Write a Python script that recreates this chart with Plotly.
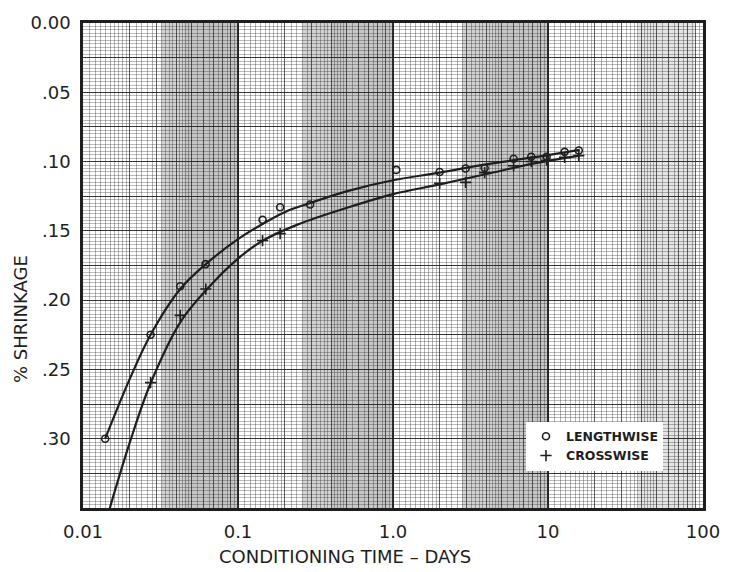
import plotly.graph_objects as go

# Measured shrinkage, lengthwise specimens (days, % shrinkage)
length_days = [0.0139, 0.0273, 0.0424, 0.0618, 0.144, 0.187, 0.292, 1.05,
               2.0, 2.94, 3.9, 6.0, 7.8, 9.8, 12.8, 15.8]
length_shrink = [0.300, 0.225, 0.190, 0.174, 0.142, 0.133, 0.131, 0.106,
                 0.1075, 0.105, 0.1046, 0.098, 0.0965, 0.0965, 0.093, 0.092]

# Measured shrinkage, crosswise specimens
cross_days = [0.0273, 0.0424, 0.062, 0.144, 0.187, 2.0, 2.94, 3.9, 6.0,
              7.8, 9.8, 12.8, 15.8]
cross_shrink = [0.2595, 0.211, 0.192, 0.157, 0.152, 0.1157, 0.115, 0.108,
                0.103, 0.100, 0.099, 0.097, 0.0957]

# Hand-faired curves through each set
length_curve_days = [0.0139, 0.02, 0.0273, 0.0424, 0.062, 0.1, 0.144, 0.2,
                     0.3, 0.5, 1.0, 2.0, 4.0, 8.0, 16.0]
length_curve_shrink = [0.300, 0.257, 0.225, 0.192, 0.174, 0.156, 0.145, 0.1365,
                       0.1295, 0.1215, 0.1135, 0.108, 0.102, 0.097, 0.0915]

cross_curve_days = [0.0149, 0.02, 0.0273, 0.0424, 0.062, 0.1, 0.145, 0.242,
                    0.5, 1.0, 2.0, 4.0, 8.0, 16.0]
cross_curve_shrink = [0.350, 0.303, 0.260, 0.216, 0.193, 0.170, 0.157, 0.1455,
                      0.1335, 0.1235, 0.1165, 0.109, 0.1015, 0.0957]

# Axis ticks
decades = [0.01, 0.1, 1.0, 10.0, 100.0]
decade_labels = ["0.01", "0.1", "1.0", "10", "100"]
y_ticks = [i * 0.025 for i in range(15)]
y_labels = ["0.00", "", ".05", "", ".10", "", ".15", "", ".20", "", ".25", "", ".30", "", ""]

INK = "#1e1e1e"
FONT = "DejaVu Sans"

# log-paper rulings: heavy at each integer multiple, finer subdivisions between
x_major = []
x_major_text = []
x_fine = []
for i, d in enumerate(decades[:-1]):
    for k in range(1, 10):
        x_major.append(d * k)
        x_major_text.append(decade_labels[i] if k == 1 else "")
    for m in range(1, 20):          # 1-2 by tenths
        v = 1 + m * 0.1
        if abs(v - round(v)) > 1e-9 and v < 2:
            x_fine.append(d * v)
    for m in range(1, 15):          # 2-5 by fifths
        v = 2 + m * 0.2
        if abs(v - round(v)) > 1e-9 and v < 5:
            x_fine.append(d * v)
    for m in range(1, 10):          # 5-10 by halves
        v = 5 + m * 0.5
        if abs(v - round(v)) > 1e-9 and v < 10:
            x_fine.append(d * v)
x_major.append(decades[-1])
x_major_text.append(decade_labels[-1])

fig = go.Figure()

fig.add_trace(go.Scatter(
    x=length_curve_days, y=length_curve_shrink, mode="lines",
    line=dict(color=INK, width=2.2, shape="spline", smoothing=1.0),
    showlegend=False, hoverinfo="skip"))
fig.add_trace(go.Scatter(
    x=cross_curve_days, y=cross_curve_shrink, mode="lines",
    line=dict(color=INK, width=2.2, shape="spline", smoothing=1.0),
    showlegend=False, hoverinfo="skip"))

fig.add_trace(go.Scatter(
    x=length_days, y=length_shrink, mode="markers", name="LENGTHWISE",
    marker=dict(symbol="circle-open", size=7, color=INK, line=dict(width=1.6, color=INK))))
fig.add_trace(go.Scatter(
    x=cross_days, y=cross_shrink, mode="markers", name="CROSSWISE",
    marker=dict(symbol="cross-thin-open", size=8, color=INK, line=dict(width=1.6, color=INK))))

# darker bands where the printed rulings crowd together (log axis: shape x in data units)
shapes = []
for lo, hi, op in [(0.032, 0.1, 0.30), (0.045, 0.1, 0.12),
                   (0.26, 1.0, 0.30), (0.4, 1.0, 0.10),
                   (2.8, 10.0, 0.30), (4.5, 10.0, 0.10),
                   (38.0, 88.0, 0.18)]:
    shapes.append(dict(type="rect", xref="x", yref="paper",
                       x0=lo, x1=hi, y0=0, y1=1,
                       fillcolor="#6a6a6a", opacity=op, line=dict(width=0), layer="below"))
for d in decades[1:-1]:
    shapes.append(dict(type="line", xref="x", yref="paper",
                       x0=d, x1=d, y0=0, y1=1,
                       line=dict(color=INK, width=1.8), layer="below"))

fig.update_layout(
    width=732, height=572,
    margin=dict(l=83, r=22, t=14, b=64),
    paper_bgcolor="white", plot_bgcolor="white",
    font=dict(family=FONT, color=INK, size=18),
    shapes=shapes,
    legend=dict(
        x=0.7145, y=0.178, xanchor="left", yanchor="top",
        bgcolor="white", borderwidth=0,
        font=dict(family=FONT, size=12.5, color=INK, weight="bold"),
        itemwidth=30),
    xaxis=dict(
        type="log", range=[-2, 2],
        tickmode="array", tickvals=x_major, ticktext=x_major_text,
        showgrid=True, gridcolor="rgba(30,30,30,0.70)", gridwidth=1,
        minor=dict(tickmode="array", tickvals=x_fine, showgrid=True,
                   gridcolor="rgba(40,40,40,0.35)", gridwidth=0.6),
        showline=True, linecolor=INK, linewidth=2.5, mirror=True,
        ticks="", ticklabelstandoff=6, zeroline=False,
        tickfont=dict(size=18)),
    yaxis=dict(
        range=[0.35, 0], tickmode="array", tickvals=y_ticks, ticktext=y_labels,
        showgrid=True, gridcolor="rgba(30,30,30,0.85)", gridwidth=1.3,
        minor=dict(dtick=0.0025, showgrid=True,
                   gridcolor="rgba(40,40,40,0.32)", gridwidth=0.6),
        showline=True, linecolor=INK, linewidth=2.5, mirror=True,
        ticks="", ticklabelstandoff=6, zeroline=False,
        tickfont=dict(size=18)),
    annotations=[
        dict(text="CONDITIONING TIME \u2013 DAYS", xref="paper", yref="paper",
             x=0.4226, y=-0.099, xanchor="center", yanchor="middle",
             showarrow=False, font=dict(size=18)),
        dict(text="% SHRINKAGE", xref="paper", yref="paper",
             x=-0.1005, y=0.389, xanchor="center", yanchor="middle",
             textangle=-90, showarrow=False, font=dict(size=18)),
    ],
)

fig.write_html("out.html")
